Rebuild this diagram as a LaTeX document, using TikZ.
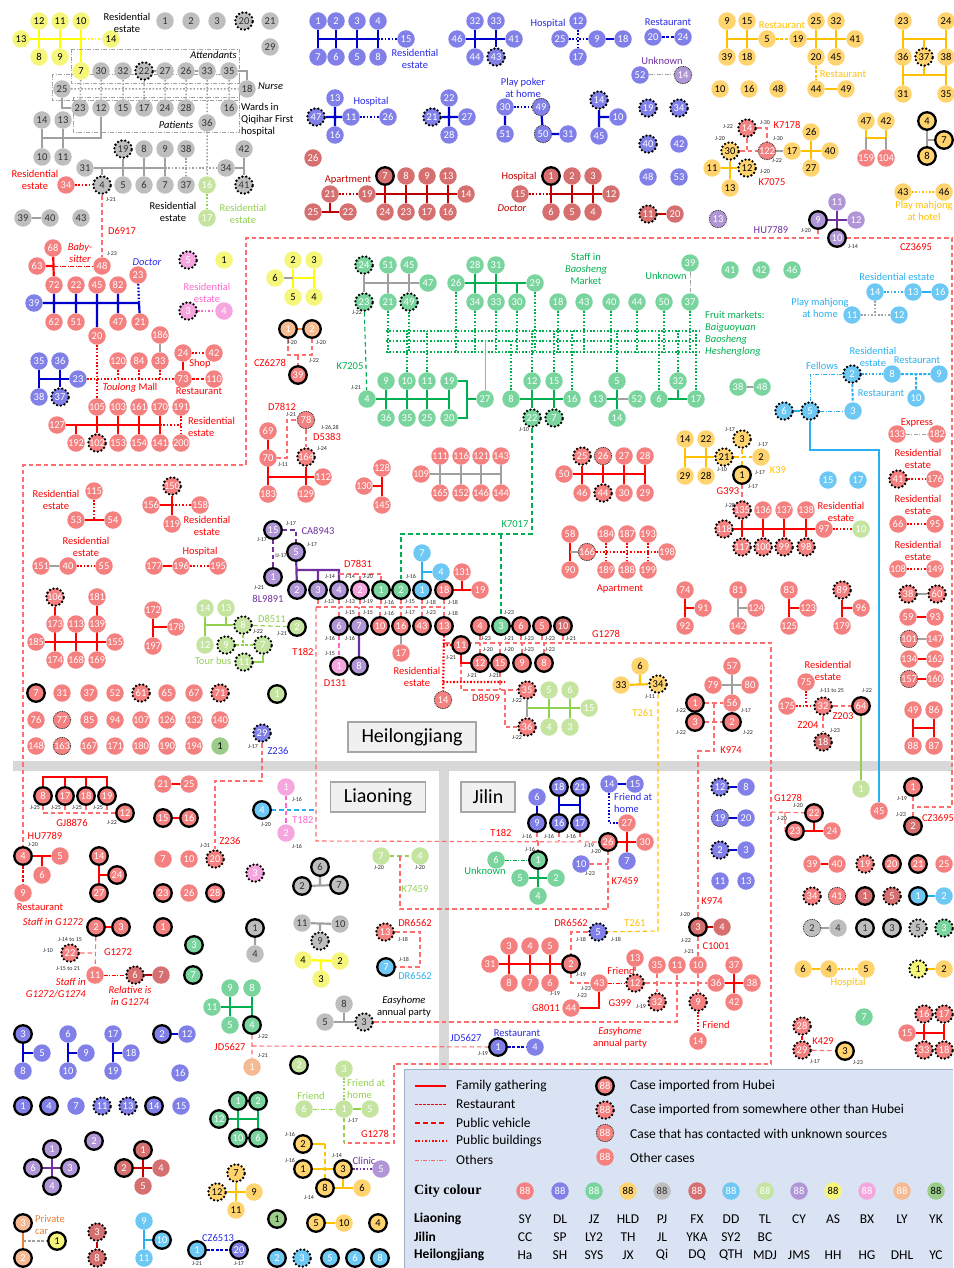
\documentclass[tikz,border=0pt]{standalone}
\usepackage{fontspec}
\setmainfont{Carlito}
\newfontfamily\tmsfont{Liberation Serif}
\usetikzlibrary{backgrounds}
\definecolor{fR}{RGB}{244,128,128}
\definecolor{fB}{RGB}{128,128,232}
\definecolor{fG}{RGB}{122,212,158}
\definecolor{fA}{RGB}{255,211,110}
\definecolor{fGy}{RGB}{190,190,190}
\definecolor{fD}{RGB}{214,112,112}
\definecolor{fC}{RGB}{110,200,244}
\definecolor{fL}{RGB}{196,228,160}
\definecolor{fP}{RGB}{176,150,214}
\definecolor{fY}{RGB}{246,246,122}
\definecolor{fK}{RGB}{246,166,222}
\definecolor{fO}{RGB}{246,186,146}
\definecolor{fV}{RGB}{156,204,138}
\definecolor{eR}{RGB}{255,0,0}
\definecolor{eB}{RGB}{0,0,204}
\definecolor{eG}{RGB}{0,176,80}
\definecolor{eA}{RGB}{255,192,0}
\definecolor{eGy}{RGB}{160,160,160}
\definecolor{eD}{RGB}{192,0,0}
\definecolor{eC}{RGB}{40,176,240}
\definecolor{eL}{RGB}{146,208,80}
\definecolor{eP}{RGB}{112,48,160}
\definecolor{eY}{RGB}{255,255,0}
\definecolor{eK}{RGB}{255,102,204}
\definecolor{eO}{RGB}{237,125,49}
\definecolor{eRt}{RGB}{255,110,110}
\definecolor{tB}{RGB}{40,40,230}
\definecolor{legbg}{RGB}{218,227,243}
\definecolor{legbd}{RGB}{160,175,200}
\definecolor{bandc}{RGB}{216,216,216}
\newcounter{lbn}
\newcommand\Nd[4]{\node[#1] (#2) at (#3) {#4};}
\newcommand\Lb[3]{\stepcounter{lbn}\node[#1] (lab\arabic{lbn}) at (#2) {#3};}
\newcommand\Jl[2]{\stepcounter{lbn}\node[j] (lab\arabic{lbn}) at (#1) {#2};}
\tikzset{
 n/.style={circle,inner sep=0pt,minimum size=17.5pt,font=\fontsize{10.5}{10.5}\selectfont,text=white},
 R/.style={n,fill=fR}, B/.style={n,fill=fB}, G/.style={n,fill=fG}, A/.style={n,fill=fA,text=black},
 Gy/.style={n,fill=fGy,text=black!80}, D/.style={n,fill=fD}, C/.style={n,fill=fC}, L/.style={n,fill=fL},
 P/.style={n,fill=fP}, Y/.style={n,fill=fY,text=black}, K/.style={n,fill=fK}, O/.style={n,fill=fO},
 V/.style={n,fill=fV,text=black},
 hb/.style={draw=black,line width=2.3pt},
 ot/.style={draw=black,line width=2.6pt,dash pattern=on 0pt off 3.8pt,line cap=round},
 un/.style={draw=black!80,line width=0.8pt,dash pattern=on 0.9pt off 0.9pt},
 fam/.style={line width=2.2pt},
 rst/.style={line width=1.4pt,dash pattern=on 3pt off 1.5pt},
 pub/.style={line width=2.2pt,dash pattern=on 1.6pt off 1.8pt},
 oth/.style={line width=1pt,dash pattern=on 4pt off 1.5pt on 1pt off 1.5pt},
 rt/.style={line width=1.1pt,dash pattern=on 4.5pt off 3pt,draw=eRt},
 t/.style={font=\fontsize{10.5}{12}\selectfont,align=center,inner sep=0pt},
 ti/.style={t,font=\fontsize{10.5}{12}\selectfont\itshape},
 j/.style={font=\fontsize{6}{6}\selectfont,inner sep=0pt,text=black!85},
 reg/.style={draw=black!35,line width=1.8pt,fill=black!6,font=\fontsize{20}{20}\selectfont,minimum height=30pt},
 lgt/.style={font=\fontsize{13.5}{14}\selectfont,anchor=west,inner sep=0pt},
 cit/.style={font=\fontsize{13.5}{14}\selectfont,inner sep=0pt},
}
\begin{document}
\begin{tikzpicture}[x=1pt,y=-1pt]
\useasboundingbox (0,0) rectangle (953,1268);
% ================= NODES =================
% top-left yellow
\Nd{Y}{a12}{39,21}{12}\Nd{Y}{a11}{60,21}{11}\Nd{Y}{a10}{81,21}{10}\Nd{Y}{a13}{21,39}{13}\Nd{Y}{a14}{111,39}{14}
\Nd{Y}{a8}{39,57}{8}\Nd{Y}{a9}{60,57}{9}\Nd{Y}{a7}{81,71}{7}
\Lb{t}{127,23}{Residential\\estate}
\Nd{Gy}{b1}{165,21}{1}\Nd{Gy}{b2}{191,21}{2}\Nd{Gy}{b3}{217,21}{3}\Nd{Gy,ot}{b20}{244,21}{20}\Nd{Gy}{b21}{270,21}{21}\Nd{Gy}{b29}{270,47}{29}
% Qiqihar hospital
\Nd{Gy}{q30}{101,71}{30}\Nd{Gy}{q32}{123,71}{32}\Nd{Gy,ot}{q22}{144,71}{22}\Nd{Gy}{q27}{165,71}{27}\Nd{Gy}{q26}{186,71}{26}\Nd{Gy}{q33}{207,71}{33}\Nd{Gy}{q35}{229,71}{35}
\Nd{Gy}{q18}{247,89}{18}\Nd{Gy}{q25}{62,89}{25}
\Nd{Gy}{q23}{80,108}{23}\Nd{Gy}{q12}{101,108}{12}\Nd{Gy}{q15}{123,108}{15}\Nd{Gy}{q17}{144,108}{17}\Nd{Gy}{q24}{165,108}{24}\Nd{Gy}{q28}{186,108}{28}\Nd{Gy}{q16}{229,108}{16}\Nd{Gy}{q36}{207,123}{36}
\Nd{Gy}{q14}{42,120}{14}\Nd{Gy}{q13}{63,120}{13}\Nd{Gy}{q10}{42,157}{10}\Nd{Gy}{q11}{63,157}{11}
\Lb{ti,anchor=east}{237,55}{Attendants}
\Lb{ti,anchor=west}{258,86}{Nurse}
\Lb{t,anchor=west,align=left}{241,120}{Wards in\\Qiqihar First\\hospital}
\Lb{ti}{176,125}{Patients}
% grey cluster 2
\Nd{Gy}{g31}{85,168}{31}\Nd{Gy,ot}{g19}{123,149}{19}\Nd{Gy}{g8}{144,149}{8}\Nd{Gy}{g9}{165,149}{9}\Nd{Gy}{g38}{186,149}{38}\Nd{Gy}{g42}{244,149}{42}
\Nd{Gy,ot}{g4}{102,185}{4}\Nd{Gy}{g5}{123,185}{5}\Nd{Gy}{g6}{144,185}{6}\Nd{Gy}{g7}{165,185}{7}\Nd{Gy}{g37}{186,185}{37}\Nd{Gy}{g34}{226,168}{34}\Nd{Gy,ot}{g41}{244,185}{41}
\Nd{R}{g34r}{66,185}{34}
\Nd{L}{lq16}{207,185}{16}\Nd{L}{lq17}{207,218}{17}
\Nd{Gy}{g39}{23,218}{39}\Nd{Gy}{g40}{50,218}{40}\Nd{Gy}{g43}{81,218}{43}
\Lb{t,text=eR}{35,180}{Residential\\estate}
\Lb{t}{173,212}{Residential\\estate}
\Lb{t,text=eL}{243,214}{Residential\\estate}
\Jl{111,200}{J-21}\Jl{112,254}{J-23}
\Lb{t,text=eR}{122,231}{D6917}
% baby-sitter
\Nd{R}{s68}{53,248}{68}\Nd{R}{s63}{37,266}{63}\Nd{R}{s48}{102,266}{48}\Nd{R}{s72}{54,285}{72}\Nd{R}{s22}{76,285}{22}\Nd{R}{s45}{97,285}{45}\Nd{R}{s82}{118,285}{82}\Nd{R}{s23}{138,275}{23}
\Nd{B}{s39}{34,303}{39}
\Nd{R}{s62}{54,322}{62}\Nd{R}{s51}{76,322}{51}\Nd{R}{s47}{118,322}{47}\Nd{R}{s21}{140,322}{21}\Nd{R}{s20}{97,336}{20}
\Lb{ti,text=eR}{80,253}{Baby-\\sitter}
\Lb{ti,text=tB}{147,262}{Doctor}
\Nd{K,ot}{p5}{188,260}{5}\Nd{Y}{p1}{224,260}{1}\Nd{K,ot}{p3}{188,311}{3}\Nd{K}{p4}{224,311}{4}
\Lb{t,text=eK}{207,293}{Residential\\estate}
% blue top
\Nd{B}{u1}{318,21}{1}\Nd{B}{u2}{336,21}{2}\Nd{B}{u3}{357,21}{3}\Nd{B}{u4}{378,21}{4}\Nd{B}{u15}{406,39}{15}
\Nd{B}{u7}{318,57}{7}\Nd{B}{u6}{336,57}{6}\Nd{B}{u5}{357,57}{5}\Nd{B}{u8}{378,57}{8}
\Lb{t,text=tB}{415,59}{Residential\\estate}
\Nd{B}{v46}{457,39}{46}\Nd{B}{v32}{475,21}{32}\Nd{B}{v33}{496,21}{33}\Nd{B}{v41}{514,39}{41}\Nd{B}{v44}{475,57}{44}\Nd{B,ot}{v43}{496,57}{43}
\Nd{B}{w12}{578,21}{12}\Nd{B}{w25}{560,39}{25}\Nd{B}{w9}{597,39}{9}\Nd{B}{w18}{623,39}{18}\Nd{B}{w17}{578,57}{17}
\Lb{t,text=tB}{548,24}{Hospital}
\Nd{B}{x20}{653,37}{20}\Nd{B}{x24}{683,37}{24}\Lb{t,text=tB}{668,22}{Restaurant}
\Nd{B}{x52}{640,75}{52}\Nd{P,un}{x14}{683,75}{14}\Lb{t,text=eP}{662,61}{Unknown}
\Nd{B,ot}{x19}{648,108}{19}\Nd{B,ot}{x34}{679,108}{34}\Nd{B,ot}{x40}{648,144}{40}\Nd{B}{x42}{679,144}{42}\Nd{B}{x48}{648,177}{48}\Nd{B}{x53}{679,177}{53}
\Nd{D,ot}{x11}{648,214}{11}\Nd{D}{x20d}{675,214}{20}\Nd{P,un}{x13}{718,219}{13}
\Nd{B,ot}{y47}{316,117}{47}\Nd{B}{y13}{335,98}{13}\Nd{B}{y11}{351,117}{11}\Nd{B}{y26}{388,117}{26}\Nd{B}{y16}{335,135}{16}
\Lb{t,text=tB}{371,102}{Hospital}
\Nd{B}{y22}{449,98}{22}\Nd{B,ot}{y21}{432,117}{21}\Nd{B}{y27}{467,117}{27}\Nd{B}{y28}{449,135}{28}
\Nd{B}{y30}{505,107}{30}\Nd{B,un}{y49}{541,107}{49}\Nd{B}{y51}{505,134}{51}\Nd{B,un}{y50}{543,134}{50}\Nd{B}{y31}{568,134}{31}
\Lb{t,text=tB}{523,88}{Play poker\\at home}
\Nd{B,ot}{y14}{599,100}{14}\Nd{B}{y10}{618,117}{10}\Nd{B}{y45}{599,136}{45}
% dark red apartment / hospital
\Nd{D}{z26}{313,158}{26}\Nd{D}{z25}{313,212}{25}\Nd{D}{z21}{330,194}{21}\Nd{D}{z22}{348,212}{22}\Nd{D}{z19}{367,194}{19}
\Nd{D,hb}{z7}{385,176}{7}\Nd{D}{z8}{406,176}{8}\Nd{D}{z9}{427,176}{9}\Nd{D}{z13}{448,176}{13}\Nd{D}{z14}{466,194}{14}
\Nd{D}{z24}{385,212}{24}\Nd{D}{z23}{406,212}{23}\Nd{D}{z17}{427,212}{17}\Nd{D}{z16}{448,212}{16}
\Lb{t,text=eD}{348,180}{Apartment}
\Nd{D,hb}{h1}{551,176}{1}\Nd{D}{h2}{572,176}{2}\Nd{D}{h3}{593,176}{3}\Nd{D}{h15}{520,194}{15}\Nd{D}{h12}{611,194}{12}\Nd{D}{h6}{551,212}{6}\Nd{D}{h5}{572,212}{5}\Nd{D}{h4}{593,212}{4}
\Lb{t,text=eD}{519,177}{Hospital}\Lb{ti,text=eD}{512,208}{Doctor}
% gold top
\Nd{A}{o9}{727,21}{9}\Nd{A}{o15}{747,21}{15}\Nd{A}{o5}{767,39}{5}\Nd{A}{o19}{798,39}{19}\Nd{A}{o25}{816,21}{25}\Nd{A}{o32}{836,21}{32}\Nd{A}{o41}{855,39}{41}
\Nd{A}{o39}{727,57}{39}\Nd{A}{o18}{747,57}{18}\Nd{A}{o20}{816,57}{20}\Nd{A}{o45}{836,57}{45}\Nd{A}{o44}{816,89}{44}\Nd{A}{o49}{846,89}{49}
\Nd{A}{o10}{720,89}{10}\Nd{A}{o16}{749,89}{16}\Nd{A}{o48}{778,89}{48}
\Lb{t,text=eA}{782,25}{Restaurant}\Lb{t,text=eA}{843,74}{Restaurant}
\Nd{A}{o23}{903,21}{23}\Nd{A}{o24}{946,21}{24}\Nd{A}{o36}{903,57}{36}\Nd{A,ot}{o37}{924,57}{37}\Nd{A}{o38}{946,57}{38}\Nd{A}{o31}{903,94}{31}\Nd{A}{o35}{946,94}{35}
% K7178 / K7075
\Nd{R,ot}{k14}{747,128}{14}\Nd{A,ot}{k30}{730,151}{30}\Nd{R,un}{k122}{767,151}{122}\Nd{A,ot}{k12}{747,168}{12}\Nd{A}{k11}{712,168}{11}\Nd{A}{k13}{730,188}{13}
\Nd{A}{k17}{792,151}{17}\Nd{A}{k26}{811,132}{26}\Nd{A}{k40}{830,151}{40}\Nd{A}{k27}{811,168}{27}
\Jl{728,127}{J-22}\Jl{765,123}{J-30}\Jl{778,139}{J-30}\Jl{720,139}{J-20}\Jl{765,172}{J-20}\Jl{777,161}{J-22}
\Lb{t,text=eR}{787,125}{K7178}\Lb{t,text=eR}{772,182}{K7075}
\Nd{A}{m47}{866,121}{47}\Nd{A}{m42}{886,121}{42}\Nd{R}{m159}{866,158}{159}\Nd{R}{m104}{886,158}{104}
\Nd{A,hb}{n4}{927,121}{4}\Nd{A,hb}{n7}{944,140}{7}\Nd{A,hb}{n8}{927,156}{8}
\Nd{A}{n43}{903,192}{43}\Nd{A}{n46}{944,192}{46}\Lb{t,text=eA}{924,211}{Play mahjong\\at hotel}
\Nd{P}{pp11}{837,202}{11}\Nd{P,hb}{pp9}{818,220}{9}\Nd{P}{pp12}{856,220}{12}\Nd{P,hb}{pp10}{837,238}{10}
\Lb{t,text=eP}{771,230}{HU7789}\Jl{806,231}{J-20}\Jl{853,247}{J-14}\Lb{t,text=eR}{916,247}{CZ3695}
% green K7205
\Nd{G,ot}{e24}{364,265}{24}\Nd{G}{e51}{388,265}{51}\Nd{G}{e45}{409,265}{45}\Nd{G}{e47}{428,283}{47}\Nd{G,ot}{e23}{364,302}{23}\Nd{G}{e21}{388,302}{21}\Nd{G,ot}{e49}{409,302}{49}
\Nd{G}{e26}{456,283}{26}\Nd{G}{e28}{475,265}{28}\Nd{G}{e31}{496,265}{31}\Nd{G}{e29}{535,283}{29}\Nd{G}{e34}{475,302}{34}\Nd{G}{e33}{496,302}{33}\Nd{G}{e30}{517,302}{30}
\Nd{G}{e18}{558,302}{18}\Nd{G}{e43}{584,302}{43}\Nd{G}{e40}{611,302}{40}\Nd{G}{e44}{637,302}{44}\Nd{G}{e50}{664,302}{50}\Nd{G}{e37}{690,302}{37}\Nd{G}{e39}{690,263}{39}
\Nd{G}{e41}{730,270}{41}\Nd{G}{e42}{761,270}{42}\Nd{G}{e46}{792,270}{46}
\Nd{G}{e4}{367,399}{4}\Nd{G}{e9}{386,381}{9}\Nd{G}{e10}{407,381}{10}\Nd{G}{e11}{427,381}{11}\Nd{G}{e19}{449,381}{19}
\Nd{G}{e36}{386,418}{36}\Nd{G}{e35}{407,418}{35}\Nd{G}{e25}{427,418}{25}\Nd{G}{e20}{449,418}{20}\Nd{G}{e27}{485,399}{27}
\Nd{G}{e8}{511,399}{8}\Nd{G}{e12}{532,381}{12}\Nd{G}{e15}{554,381}{15}\Nd{G}{e16}{572,399}{16}\Nd{G,ot}{e22}{532,418}{22}\Nd{G,ot}{e7}{554,418}{7}
\Nd{G}{e13}{598,399}{13}\Nd{G}{e5}{617,381}{5}\Nd{G}{e14}{617,418}{14}\Nd{G}{e52}{637,399}{52}
\Nd{G}{e32}{678,381}{32}\Nd{G}{e6}{659,399}{6}\Nd{G}{e17}{696,399}{17}\Nd{G}{e38}{738,387}{38}\Nd{G}{e48}{762,387}{48}
\Lb{t,text=eG}{586,269}{Staff in\\\textit{Baosheng}\\Market}
\Lb{t,text=eG}{666,276}{Unknown}
\Lb{t,text=eG,anchor=west,align=left}{705,334}{Fruit markets:\\\textit{Baiguoyuan}\\\textit{Baosheng}\\\textit{Heshenglong}}
\Lb{t,text=eG}{350,366}{K7205}\Jl{356,388}{J-21}\Jl{357,313}{J-22}\Jl{524,430}{J-10}
\Lb{t,text=eG}{515,524}{K7017}
% yellow small
\Nd{Y}{yy2}{293,260}{2}\Nd{Y}{yy3}{314,260}{3}\Nd{Y}{yy6}{275,278}{6}\Nd{Y}{yy5}{293,297}{5}\Nd{Y}{yy4}{314,297}{4}
% blue 35 / Toulong mall
\Nd{B}{bb35}{39,361}{35}\Nd{B}{bb36}{60,361}{36}\Nd{B}{bb23}{78,379}{23}\Nd{B}{bb38}{39,397}{38}\Nd{B,ot}{bb37}{60,397}{37}
\Nd{R}{tl120}{118,361}{120}\Nd{R}{tl84}{139,361}{84}\Nd{R}{tl33}{160,361}{33}\Nd{R}{tl186}{160,335}{186}\Nd{R}{tl24}{183,353}{24}\Nd{R}{tl42}{214,353}{42}\Nd{R}{tl73}{183,379}{73}\Nd{R}{tl110}{214,379}{110}
\Nd{R}{tl105}{97,407}{105}\Nd{R}{tl103}{118,407}{103}\Nd{R}{tl161}{139,407}{161}\Nd{R}{tl170}{160,407}{170}\Nd{R}{tl191}{181,407}{191}\Nd{R}{tl127}{57,425}{127}
\Nd{R}{tl192}{76,443}{192}\Nd{R,ot}{tl102}{97,443}{102}\Nd{R}{tl153}{118,443}{153}\Nd{R}{tl154}{139,443}{154}\Nd{R}{tl141}{160,443}{141}\Nd{R}{tl200}{181,443}{200}
\Lb{t,text=eR}{130,388}{\textit{Toulong} Mall}\Lb{t,text=eR}{200,364}{Shop}\Lb{t,text=eR}{199,391}{Restaurant}
\Lb{t,text=eR,anchor=west,align=left}{188,427}{Residential\\estate}
% lower-left Heilongjiang red
\Nd{R}{ll115}{94,491}{115}\Nd{R}{ll53}{76,520}{53}\Nd{R}{ll54}{113,520}{54}
\Nd{R,ot}{ll150}{172,486}{150}\Nd{R}{ll156}{151,505}{156}\Nd{R}{ll158}{200,505}{158}\Nd{R}{ll119}{172,524}{119}
\Nd{R}{ll151}{41,566}{151}\Nd{R}{ll40}{68,566}{40}\Nd{R}{ll55}{104,566}{55}
\Nd{R}{ll177}{154,566}{177}\Nd{R}{ll196}{181,566}{196}\Nd{R}{ll195}{218,566}{195}
\Nd{R,ot}{ll106}{55,597}{106}\Nd{R}{ll181}{97,597}{181}\Nd{R}{ll173}{55,624}{173}\Nd{R}{ll113}{76,624}{113}\Nd{R}{ll139}{97,624}{139}
\Nd{R}{ll185}{36,642}{185}\Nd{R}{ll174}{55,660}{174}\Nd{R}{ll168}{76,660}{168}\Nd{R}{ll169}{97,660}{169}\Nd{R}{ll155}{115,642}{155}
\Nd{R}{ll172}{153,610}{172}\Nd{R}{ll197}{153,646}{197}\Nd{R}{ll178}{176,627}{178}
\Lb{t,text=eR}{56,500}{Residential\\estate}\Lb{t,text=eR}{207,526}{Residential\\estate}\Lb{t,text=eR}{86,547}{Residential\\estate}\Lb{t,text=eR}{200,552}{Hospital}
% singles rows
\Nd{R,hb}{sg7}{36,693}{7}\Nd{R}{sg31}{62,693}{31}\Nd{R}{sg37}{89,693}{37}\Nd{R}{sg52}{115,693}{52}\Nd{R,ot}{sg61}{141,693}{61}\Nd{R}{sg65}{167,693}{65}\Nd{R}{sg67}{194,693}{67}\Nd{R,ot}{sg71}{220,693}{71}\Nd{L,hb}{sgl1}{277,694}{1}
\Nd{R}{sg76}{36,720}{76}\Nd{R,un}{sg77}{62,720}{77}\Nd{R}{sg85}{89,720}{85}\Nd{R}{sg94}{115,720}{94}\Nd{R}{sg107}{141,720}{107}\Nd{R}{sg126}{167,720}{126}\Nd{R}{sg132}{194,720}{132}\Nd{R}{sg140}{220,720}{140}
\Nd{R}{sg148}{36,746}{148}\Nd{R,un}{sg163}{62,746}{163}\Nd{R}{sg167}{89,746}{167}\Nd{R}{sg171}{115,746}{171}\Nd{R}{sg180}{141,746}{180}\Nd{R}{sg190}{167,746}{190}\Nd{R}{sg194}{194,746}{194}\Nd{V}{sgv1}{220,746}{1}
\Nd{B,ot}{bz29}{262,733}{29}\Jl{253,747}{J-17}\Lb{t,text=tB}{278,751}{Z236}
% CZ6278, D7812
\Nd{O,hb}{c1}{288,329}{1}\Nd{O,hb}{c2}{312,329}{2}\Nd{R,hb}{c39}{298,375}{39}
\Jl{292,343}{J-20}\Jl{321,343}{J-20}\Jl{314,361}{J-22}\Lb{t,text=eR}{270,363}{CZ6278}
\Nd{R,un}{dd78}{306,420}{78}\Nd{R}{dd69}{268,431}{69}\Nd{R}{dd70}{268,458}{70}\Nd{R,ot}{dd164}{306,457}{164}\Nd{R}{dd183}{268,494}{183}\Nd{R}{dd129}{306,494}{129}\Nd{R}{dd112}{323,477}{112}
\Lb{t,text=eR}{282,407}{D7812}\Jl{291,415}{J-21}\Jl{283,465}{J-11}\Lb{t,text=eR}{327,437}{D5383}\Jl{322,449}{J-24}\Jl{330,428}{J-26,28}
% misc reds/greys centre
\Nd{R}{r128}{382,468}{128}\Nd{R}{r130}{364,486}{130}\Nd{R}{r145}{382,505}{145}
\Nd{R}{gg111}{440,456}{111}\Nd{R}{gg116}{461,456}{116}\Nd{R}{gg121}{481,456}{121}\Nd{R}{gg143}{501,456}{143}\Nd{R}{gg109}{421,474}{109}
\Nd{R}{gg165}{440,493}{165}\Nd{R}{gg152}{461,493}{152}\Nd{R}{gg146}{481,493}{146}\Nd{R}{gg144}{501,493}{144}
\Nd{R,ot}{fa25}{582,456}{25}\Nd{R,un}{fa26}{603,456}{26}\Nd{R}{fa27}{624,456}{27}\Nd{R}{fa28}{645,456}{28}\Nd{R}{fa50}{564,474}{50}
\Nd{R}{fa46}{582,493}{46}\Nd{R,ot}{fa44}{603,493}{44}\Nd{R}{fa30}{624,493}{30}\Nd{R}{fa29}{645,493}{29}
\Nd{R}{ap58}{570,534}{58}\Nd{R}{ap90}{570,570}{90}\Nd{R,un}{ap166}{587,552}{166}\Nd{R}{ap184}{606,534}{184}\Nd{R}{ap187}{627,534}{187}\Nd{R}{ap193}{648,534}{193}
\Nd{R}{ap198}{667,552}{198}\Nd{R}{ap189}{606,570}{189}\Nd{R}{ap188}{627,570}{188}\Nd{R}{ap199}{648,570}{199}
\Lb{t,text=eR}{620,589}{Apartment}
% chain
\Nd{P,hb}{ch15}{273,530}{15}\Nd{P,hb}{ch5}{296,552}{5}\Nd{P,hb}{ch1}{273,577}{1}
\Nd{P,hb}{ch2p}{297,590}{2}\Nd{P,hb}{ch3p}{318,590}{3}\Nd{P,hb}{ch4p}{339,590}{4}\Nd{K,hb}{ch2k}{360,590}{2}\Nd{G,hb}{ch1g}{381,590}{1}\Nd{G,hb}{ch2g}{401,590}{2}\Nd{C,hb}{ch1c}{422,590}{1}\Nd{R,hb}{ch18}{444,590}{18}\Nd{R}{ch19}{480,590}{19}
\Nd{R}{ch131}{462,572}{131}\Nd{C}{ch7c}{422,553}{7}\Nd{C}{ch4c}{441,572}{4}
\Nd{L,hb}{ch2lg}{297,627}{2}\Nd{P,hb}{ch6p}{339,626}{6}\Nd{P,hb}{ch7p}{359,626}{7}\Nd{R,hb}{ch10}{380,626}{10}\Nd{R,hb}{ch16}{401,626}{16}\Nd{R,hb}{ch43}{422,626}{43}\Nd{R,hb}{ch13}{444,626}{13}
\Nd{R,hb}{ch4r}{480,626}{4}\Nd{G,hb}{ch3g}{501,626}{3}\Nd{R,hb}{ch6r}{521,626}{6}\Nd{R,hb}{ch5r}{542,626}{5}\Nd{D,hb}{ch10r}{563,626}{10}
\Nd{K,hb}{ch1k}{339,666}{1}\Nd{P,hb}{ch8p}{359,666}{8}\Nd{R}{ch17}{401,653}{17}\Nd{R,un}{ch14}{443,700}{14}
\Nd{R,hb}{ch11}{461,645}{11}\Nd{R,hb}{ch12}{480,663}{12}\Nd{R,hb}{ch15r}{500,663}{15}\Nd{R,hb}{ch9}{522,663}{9}\Nd{R,hb}{ch8r}{544,663}{8}
\Jl{291,524}{J-17}\Jl{262,540}{J-17}\Jl{312,545}{J-17}\Jl{281,556}{IJ-17}\Lb{t,text=eP}{318,531}{CA8943}
\Jl{259,588}{J-21}\Lb{t,text=eP}{268,599}{8L9891}
\Lb{t,text=eR}{358,564}{D7831}\Jl{330,577}{J-14}\Jl{350,577}{J-14}\Jl{368,577}{J-20}\Jl{411,576}{J-16}
\Jl{329,602}{J-13}\Jl{350,602}{J-13}\Jl{368,602}{J-19}\Jl{389,602}{J-16}\Jl{410,602}{J-15}\Jl{431,602}{J-18}\Jl{453,602}{J-18}
\Jl{350,613}{J-15}\Jl{368,613}{J-15}\Jl{389,613}{J-16}\Jl{410,613}{J-17}\Jl{431,613}{J-23}\Jl{453,613}{J-18}\Jl{509,613}{J-23}
\Jl{330,654}{J-15}\Jl{330,638}{J-16}\Jl{350,638}{J-16}\Lb{t,text=eR}{335,683}{D131}
\Lb{t,text=eR}{417,677}{Residential\\estate}
\Jl{451,658}{J-21}\Jl{472,676}{J-21}\Jl{494,676}{J-21}
\Jl{486,639}{J-23}\Jl{509,639}{J-21}\Jl{529,639}{J-23}\Jl{550,639}{J-23}\Jl{571,639}{J-21}
\Jl{488,650}{J-20}\Jl{509,650}{J-20}\Jl{529,650}{J-23}\Jl{550,650}{J-23}
\Lb{t,text=eR}{606,634}{G1278}
\Nd{R,ot}{lg35}{527,690}{35}\Nd{R,ot}{lg36}{527,727}{36}\Nd{L}{lg5}{549,690}{5}\Nd{L}{lg6}{570,690}{6}\Nd{L}{lg15}{589,708}{15}\Nd{L}{lg4}{549,727}{4}\Nd{L}{lg3}{570,727}{3}
\Lb{t,text=eR}{486,698}{D8509}\Jl{517,701}{J-22}\Jl{517,738}{J-22}
% tour bus
\Nd{L}{lt14}{205,608}{14}\Nd{L}{lt13}{226,608}{13}\Nd{L,ot}{lt8}{243,625}{8}\Nd{L}{lt12}{205,645}{12}\Nd{L,ot}{lt9}{226,645}{9}\Nd{L,ot}{lt7}{263,645}{7}\Nd{L,ot}{lt11}{244,662}{11}
\Lb{t,text=eL}{272,619}{D8511}\Jl{258,632}{J-22}\Jl{282,634}{J-21}\Lb{t,text=eL}{213,661}{Tour bus}
\Lb{t,text=eR}{303,652}{T182}
% T261, K974, Z203
\Nd{A}{t6}{640,666}{6}\Nd{A,ot}{t34}{658,684}{34}\Nd{A}{t33}{621,685}{33}\Jl{650,697}{J-11}\Lb{t,text=eA}{643,713}{T261}
\Nd{R}{kk57}{732,666}{57}\Nd{R}{kk79}{713,685}{79}\Nd{R}{kk80}{750,685}{80}\Nd{R}{kk56}{732,703}{56}\Nd{R,hb}{kk1}{695,703}{1}\Nd{R,hb}{kk3}{695,722}{3}\Nd{R,hb}{kk2}{732,722}{2}
\Jl{681,711}{J-22}\Jl{681,733}{J-22}\Jl{746,711}{J-17}\Jl{748,733}{J-22}\Lb{t,text=eR}{731,750}{K974}
\Nd{R}{zz75}{806,682}{75}\Nd{R}{zz175}{787,706}{175}\Nd{R,ot}{zz32}{823,706}{32}\Nd{R,hb}{zz64}{861,706}{64}\Nd{D,ot}{zz18}{823,742}{18}
\Lb{t,text=eR}{828,671}{Residential\\estate}\Jl{832,691}{J-11 to 25}\Jl{867,691}{J-22}\Lb{t,text=eR}{843,716}{Z203}\Lb{t,text=eR}{808,725}{Z204}\Jl{835,731}{J-23}
\Nd{L}{jlg1}{861,789}{1}\Nd{R}{cy45}{879,811}{45}
% right column
\Nd{R}{rc133}{897,434}{133}\Nd{R}{rc182}{937,434}{182}\Lb{t,text=eR}{917,423}{Express}
\Nd{R,ot}{rc41}{898,479}{41}\Nd{R}{rc176}{935,479}{176}\Lb{t,text=eR}{918,459}{Residential\\estate}
\Nd{R}{rc66}{898,524}{66}\Nd{R}{rc95}{935,524}{95}\Lb{t,text=eR}{918,505}{Residential\\estate}
\Nd{R}{rc108}{898,569}{108}\Nd{R}{rc149}{935,569}{149}\Lb{t,text=eR}{918,551}{Residential\\estate}
\Nd{R,ot}{rc38}{908,594}{38}\Nd{R,ot}{rc60}{937,594}{60}\Nd{R}{rc59}{908,617}{59}\Nd{R}{rc93}{935,617}{93}
\Nd{R,un}{rc101}{909,639}{101}\Nd{R}{rc147}{935,639}{147}\Nd{R}{rc134}{909,659}{134}\Nd{R}{rc162}{935,659}{162}\Nd{R,un}{rc157}{909,679}{157}\Nd{R}{rc160}{935,679}{160}
\Nd{R}{rc49}{913,710}{49}\Nd{R}{rc86}{934,710}{86}\Nd{R}{rc88}{913,746}{88}\Nd{R}{rc87}{934,746}{87}
% cyan
\Nd{C}{cy14}{875,292}{14}\Nd{C}{cy13}{913,292}{13}\Nd{C}{cy16}{940,292}{16}\Nd{C}{cy11}{852,315}{11}\Nd{C}{cy12}{899,315}{12}
\Lb{t,text=eC}{897,277}{Residential estate}\Lb{t,text=eC}{820,308}{Play mahjong\\at home}
\Nd{C,ot}{cy2}{852,374}{2}\Nd{C}{cy8}{892,374}{8}\Nd{C}{cy9}{939,374}{9}\Nd{C}{cy10}{916,398}{10}\Nd{C,ot}{cy6}{784,411}{6}\Nd{C,ot}{cy5}{810,411}{5}\Nd{C}{cy3}{853,411}{3}
\Lb{t,text=eC}{822,366}{Fellows}\Lb{t,text=eC}{873,357}{Residential\\estate}\Lb{t,text=eC}{917,360}{Restaurant}\Lb{t,text=eC}{881,393}{Restaurant}
\Nd{C}{cy15}{828,480}{15}\Nd{C}{cy17}{858,480}{17}
% K39 / G393
\Nd{A}{kg14}{685,439}{14}\Nd{A}{kg22}{706,439}{22}\Nd{A}{kg29}{685,476}{29}\Nd{A}{kg28}{706,476}{28}\Nd{A,ot}{kg21}{724,457}{21}\Nd{A,ot}{kg3}{742,439}{3}\Nd{A}{kg2}{761,457}{2}\Nd{A,hb}{kg1}{742,475}{1}
\Jl{730,430}{J-17}\Jl{763,445}{J-17}\Jl{722,470}{J-10}\Jl{760,473}{J-17}\Lb{t,text=eA}{778,470}{K39}\Jl{753,487}{J-17}\Lb{t,text=eR}{728,491}{G393}\Jl{730,505}{J-28}
\Nd{R,ot}{kr135}{742,510}{135}\Nd{R}{kr136}{763,510}{136}\Nd{R}{kr137}{784,510}{137}\Nd{R}{kr138}{806,510}{138}\Nd{R,ot}{kr118}{724,529}{118}\Nd{R}{kr97}{824,529}{97}\Nd{L}{kr10}{861,529}{10}
\Nd{R,ot}{kr117}{742,547}{117}\Nd{R,ot}{kr100}{763,547}{100}\Nd{R,ot}{kr99}{784,547}{99}\Nd{R,ot}{kr98}{806,547}{98}
\Lb{t,text=eR}{841,512}{Residential\\estate}
\Nd{R}{rr74}{685,590}{74}\Nd{R}{rr91}{703,608}{91}\Nd{R}{rr92}{685,626}{92}\Nd{R}{rr81}{738,590}{81}\Nd{R}{rr124}{756,608}{124}\Nd{R}{rr142}{738,626}{142}
\Nd{R}{rr83}{789,590}{83}\Nd{R}{rr123}{808,608}{123}\Nd{R}{rr125}{789,626}{125}\Nd{R,ot}{rr89}{842,590}{89}\Nd{R}{rr96}{861,608}{96}\Nd{R}{rr179}{842,626}{179}
% region labels
\node[reg,minimum width=128pt] (hlj) at (412,737) {Heilongjiang};
\node[reg,minimum width=95pt] (lnn) at (378,797) {Liaoning};
\node[reg,minimum width=54pt] (jln) at (488,797) {Jilin};
% Liaoning
\Nd{R,hb}{L8}{43,796}{8}\Nd{R,hb}{L17}{65,796}{17}\Nd{R,hb}{L18}{86,796}{18}\Nd{R,hb}{L19}{107,796}{19}\Nd{R,hb}{L12}{125,813}{12}
\Jl{35,808}{J-25}\Jl{56,808}{J-25}\Jl{77,808}{J-25}\Jl{98,808}{J-25}\Jl{112,823}{J-22}\Lb{t,text=eR}{72,823}{GJ8876}
\Lb{t,text=eR}{45,836}{HU7789}\Jl{33,845}{J-20}
\Nd{R,hb}{L4}{23,856}{4}\Nd{R}{L5}{60,856}{5}\Nd{R}{L6}{42,875}{6}\Nd{R}{L9}{23,893}{9}\Lb{t,text=eR}{40,907}{Restaurant}
\Nd{R,hb}{L14}{99,856}{14}\Nd{R,hb}{L24}{117,875}{24}\Nd{R,hb}{L27}{99,893}{27}
\Nd{R}{M21}{163,784}{21}\Nd{R}{M25}{189,784}{25}\Nd{R,hb}{M15}{163,818}{15}\Nd{R,hb}{M16}{189,818}{16}
\Nd{R}{M7}{163,859}{7}\Nd{R}{M10}{189,859}{10}\Nd{R,ot}{M20}{215,859}{20}\Lb{t,text=eR}{230,841}{Z236}\Jl{205,846}{J-31}
\Nd{R,hb}{M23}{163,893}{23}\Nd{R}{M26}{189,893}{26}\Nd{R,hb}{M28}{215,893}{28}\Nd{R,hb}{M1}{163,927}{1}\Nd{G,hb}{Mg3}{194,945}{3}\Nd{G,hb}{Mg7}{193,975}{7}
\Nd{K}{pk1}{286,787}{1}\Nd{C,hb}{pk4}{262,810}{4}\Nd{K}{pk2}{286,833}{2}\Nd{K,ot}{lp3}{255,873}{3}
\Jl{297,799}{J-16}\Jl{266,825}{J-20}\Jl{297,846}{J-16}\Lb{t,text=eK}{303,820}{T182}
\Nd{Gy,hb}{gl6}{320,867}{6}\Nd{Gy,hb}{gl2}{302,886}{2}\Nd{Gy,hb}{gl7}{339,885}{7}
\Nd{Gy}{gl11}{302,923}{11}\Nd{Gy}{gl10}{340,924}{10}\Nd{Gy,ot}{gl9}{320,941}{9}\Nd{Gy,hb}{gl1}{255,928}{1}\Nd{Gy}{gl4}{255,954}{4}
\Nd{Y}{yl4}{303,960}{4}\Nd{Y}{yl2}{340,961}{2}\Nd{Y}{yl3}{321,979}{3}
\Lb{ti,text=eR}{53,922}{Staff in G1272}
\Nd{R,hb}{sf2}{96,927}{2}\Nd{R,hb}{sf3}{121,927}{3}\Nd{R,ot}{sf22}{70,953}{22}\Nd{R}{sf11}{95,975}{11}\Nd{D,ot}{sf6}{135,975}{6}\Nd{D}{sf7}{161,975}{7}
\Jl{70,940}{J-14 to 15}\Jl{48,951}{J-10}\Lb{t,text=eR}{118,952}{G1272}\Jl{68,969}{J-15 to 21}
\Lb{ti,text=eR,anchor=east,align=right}{86,988}{Staff in\\G1272/G1274}\Lb{ti,text=eR}{130,996}{Relative is\\in G1274}
\Nd{L}{lk7}{381,856}{7}\Nd{L}{lk4}{420,856}{4}\Jl{379,868}{J-20}\Jl{420,868}{J-20}\Lb{t,text=eL}{415,889}{K7459}
\Nd{R,ot}{dr13}{385,932}{13}\Nd{C,hb}{dr7}{386,967}{7}\Jl{403,939}{J-18}\Lb{t,text=eR}{415,923}{DR6562}\Jl{404,959}{J-18}\Lb{t,text=eC}{415,976}{DR6562}
\Nd{Gy}{ge8}{344,1004}{8}\Nd{Gy}{ge5}{325,1022}{5}\Nd{Gy,ot}{ge3}{364,1022}{3}\Lb{t}{404,1007}{\textit{Easyhome}\\annual party}
\Nd{G}{jg9}{230,988}{9}\Nd{G}{jg8}{252,988}{8}\Nd{G}{jg11}{212,1007}{11}\Nd{G}{jg5}{230,1025}{5}\Nd{G,hb}{jg4}{252,1025}{4}\Nd{O}{jo1}{252,1067}{1}
\Jl{263,1037}{J-22}\Lb{t,text=eR}{230,1047}{JD5627}\Jl{263,1056}{J-21}
\Nd{B,hb}{jb1}{498,1047}{1}\Nd{B}{jb4}{535,1047}{4}\Lb{t,text=tB}{466,1038}{JD5627}\Jl{483,1054}{J-19}\Lb{t,text=tB}{517,1033}{Restaurant}
\Nd{B,hb}{lb3}{23,1034}{3}\Nd{B}{lb5}{42,1053}{5}\Nd{B}{lb8}{23,1071}{8}\Nd{B}{lb6}{68,1034}{6}\Nd{B}{lb9}{86,1053}{9}\Nd{B}{lb10}{68,1071}{10}
\Nd{B}{lb17}{113,1034}{17}\Nd{B}{lb18}{131,1053}{18}\Nd{B}{lb19}{113,1071}{19}\Nd{B,hb}{lb2}{162,1034}{2}\Nd{B}{lb12}{187,1034}{12}\Nd{B}{lb16}{180,1073}{16}
\Nd{B,hb}{lr1}{23,1106}{1}\Nd{B,hb}{lr4}{49,1106}{4}\Nd{B}{lr7}{76,1106}{7}\Nd{B,ot}{lr11}{102,1106}{11}\Nd{B,ot}{lr13}{128,1106}{13}\Nd{B,hb}{lr14}{154,1106}{14}\Nd{B}{lr15}{181,1106}{15}
\Nd{P,hb}{pc1}{52,1149}{1}\Nd{P,hb}{pc6}{33,1168}{6}\Nd{P,hb}{pc3}{70,1168}{3}\Nd{P,hb}{pc4}{52,1186}{4}\Nd{P,hb}{pc2}{94,1141}{2}
\Nd{D,hb}{dc1}{143,1150}{1}\Nd{D,hb}{dc2}{124,1168}{2}\Nd{D}{dc4}{161,1168}{4}\Nd{D}{dc5}{143,1186}{5}
\Nd{G,hb}{gc1}{238,1101}{1}\Nd{G,hb}{gc2}{258,1101}{2}\Nd{G,hb}{gc12}{219,1119}{12}\Nd{G,hb}{gc10}{238,1138}{10}\Nd{G,hb}{gc6}{258,1138}{6}
\Nd{L,hb}{lw2}{299,1065}{2}
\Nd{A,ot}{gx7}{236,1173}{7}\Nd{A,ot}{gx12}{217,1192}{12}\Nd{A}{gx9}{254,1192}{9}\Nd{A}{gx11}{236,1210}{11}
\Nd{V,hb}{ov1}{277,1219}{1}
\Nd{O,hb}{or3}{23,1223}{3}\Nd{O,hb}{or2}{23,1258}{2}\Nd{Y,hb}{oy1}{57,1241}{1}\Lb{t,text=eO,anchor=west,align=left}{35,1225}{Private\\car}
\Nd{D,ot}{d3}{97,1232}{3}\Nd{D,ot}{d8}{97,1258}{8}
\Nd{C}{c9}{144,1221}{9}\Nd{C,hb}{c10}{162,1240}{10}\Nd{C}{c11}{144,1258}{11}
\Nd{C,hb}{cz61}{197,1250}{1}\Nd{B,hb}{cz620}{239,1250}{20}\Lb{t,text=tB}{218,1238}{CZ6513}\Jl{197,1264}{J-21}\Jl{239,1264}{J-17}
\Nd{C,hb}{cyb2}{277,1258}{2}\Nd{C,ot}{cyb3}{302,1258}{3}
\Nd{L}{lf3}{344,1069}{3}\Nd{L}{lf1}{344,1109}{1}\Nd{L}{lf5}{370,1109}{5}\Nd{L}{lf6}{304,1109}{6}
\Lb{t,text=eL,anchor=west,align=left}{347,1089}{Friend at\\home}\Lb{t,text=eL}{311,1096}{Friend}\Jl{353,1121}{J-17}\Lb{t,text=eR}{375,1134}{G1278}
\Nd{A,hb}{au2}{303,1144}{2}\Nd{A,hb}{au1}{303,1169}{1}\Nd{A,hb}{au3}{343,1169}{3}\Nd{A,hb}{au8}{325,1188}{8}\Nd{A}{au6}{362,1188}{6}\Nd{P}{pu5}{381,1169}{5}
\Jl{290,1134}{J-16}\Jl{290,1160}{J-16}\Jl{337,1156}{J-14}\Jl{309,1198}{J-14}\Lb{t,text=eP}{364,1161}{Clinic}
\Nd{A,hb}{au5}{316,1223}{5}\Nd{A}{au10}{344,1223}{10}\Nd{A,hb}{au4}{378,1223}{4}
\Nd{C,hb}{cb5}{330,1258}{5}\Nd{C,hb}{cb6}{355,1258}{6}\Nd{C,hb}{cb8}{380,1258}{8}
% Jilin
\Nd{B}{jb6}{537,797}{6}\Nd{B,hb}{jb9}{537,823}{9}\Nd{B,hb}{jb18}{559,787}{18}\Nd{B,hb}{jb21}{580,787}{21}\Nd{B,hb}{jb16}{559,823}{16}\Nd{B,hb}{jb17}{580,823}{17}
\Jl{527,836}{J-16}\Jl{549,836}{J-16}\Jl{571,836}{J-16}\Lb{t,text=eR}{501,833}{T182}
\Nd{B}{jb14}{609,784}{14}\Nd{B}{jb15}{635,784}{15}\Lb{t,text=tB,anchor=west,align=left}{614,803}{Friend at\\home}
\Nd{R,hb}{jr26}{608,842}{26}\Nd{R}{jr27}{627,823}{27}\Nd{R}{jr30}{645,842}{30}\Nd{B}{jb7}{627,861}{7}\Nd{B}{jb10}{581,864}{10}
\Jl{589,846}{J-19}\Jl{596,852}{J-20}\Jl{590,874}{J-23}\Lb{t,text=eR}{625,881}{K7459}
\Nd{G,hb}{ju1}{538,860}{1}\Nd{G}{ju6}{496,860}{6}\Nd{G}{ju5}{520,878}{5}\Nd{G}{ju2}{556,878}{2}\Nd{G}{ju4}{538,896}{4}\Lb{t,text=eG}{485,871}{Unknown}\Jl{530,849}{J-16}
\Nd{B,ot}{jx12}{720,787}{12}\Nd{B}{jx8}{746,787}{8}\Nd{B,un}{jx19}{720,818}{19}\Nd{B}{jx20}{746,818}{20}\Nd{B,ot}{jx2}{720,850}{2}\Nd{B}{jx3}{746,850}{3}\Nd{B}{jx11}{720,881}{11}\Nd{B}{jx13}{746,881}{13}
\Nd{R,hb}{jl22}{814,813}{22}\Nd{R,hb}{jl23}{795,831}{23}\Nd{R}{jl24}{832,831}{24}\Lb{t,text=eR}{788,798}{G1278}\Jl{798,806}{J-20}\Jl{782,819}{J-20}
\Nd{R}{ja39}{812,864}{39}\Nd{R}{ja40}{837,864}{40}\Nd{R,ot}{ja19}{865,864}{19}\Nd{R,hb}{ja20}{892,864}{20}\Nd{R,hb}{ja21}{918,864}{21}\Nd{R}{ja25}{944,864}{25}
\Nd{R,ot}{jc34}{812,896}{34}\Nd{R,un}{jc41}{837,896}{41}\Nd{D,hb}{jc1}{865,896}{1}\Nd{D,ot}{jc5}{892,896}{5}\Nd{C,hb}{jc1c}{918,896}{1}\Nd{C}{jc2c}{944,896}{2}
\Nd{Gy,un}{jd2}{812,928}{2}\Nd{Gy}{jd4}{838,928}{4}\Nd{Gy,hb}{jd1}{865,928}{1}\Nd{Gy,hb}{jd3}{892,928}{3}\Nd{Gy,ot}{jd5}{918,928}{5}\Nd{G,ot}{jd3g}{944,928}{3}
\Nd{R,hb}{cz1}{913,787}{1}\Nd{D,hb}{cz2}{913,826}{2}\Jl{902,799}{J-19}\Jl{901,815}{J-23}\Lb{t,text=eR}{938,818}{CZ3695}
\Nd{R}{jr3}{509,946}{3}\Nd{R}{jr4}{530,946}{4}\Nd{R}{jr5}{550,946}{5}\Nd{R,hb}{jr2}{571,964}{2}\Nd{R}{jr31}{490,964}{31}\Nd{R}{jr8}{509,983}{8}\Nd{R}{jr7}{530,983}{7}\Nd{R}{jr6}{550,983}{6}
\Nd{R}{jr43}{599,983}{43}\Nd{R}{jr44}{571,1008}{44}\Nd{B,ot}{jb5}{598,932}{5}
\Lb{t,text=eR}{571,923}{DR6562}\Jl{581,939}{J-18}\Jl{616,939}{J-18}\Lb{t,text=eA}{635,923}{T261}
\Jl{581,975}{J-19}\Jl{586,989}{J-23}\Jl{582,996}{J-23}\Jl{555,994}{J-19}\Lb{t,text=eR}{546,1008}{G8011}
\Nd{R,ot}{je12}{635,983}{12}\Nd{R}{je13}{635,958}{13}\Nd{R,ot}{je32}{657,1002}{32}\Nd{R}{je35}{657,965}{35}\Nd{R}{je11}{677,965}{11}\Nd{R}{je10}{698,965}{10}\Nd{R,ot}{je9}{698,1002}{9}
\Nd{R}{je36}{716,983}{36}\Nd{R}{je37}{734,965}{37}\Nd{R}{je38}{752,983}{38}\Nd{R}{je42}{734,1002}{42}\Nd{R}{je14}{698,1041}{14}
\Lb{t,text=eR}{621,971}{Friend}\Lb{t,text=eR}{716,1025}{Friend}\Lb{t,text=eR}{620,1003}{G399}\Jl{641,1007}{J-19}\Jl{689,952}{J-21}
\Lb{t,text=eR}{620,1038}{\textit{Easyhome}\\annual party}
\Nd{D,hb}{cc3}{698,927}{3}\Nd{D}{cc4}{722,927}{4}\Jl{685,915}{J-20}\Jl{686,941}{J-22}\Lb{t,text=eR}{716,946}{C1001}\Lb{t,text=eR}{712,901}{K974}
\Nd{A}{hh6}{803,969}{6}\Nd{A}{hh4}{829,969}{4}\Nd{A}{hh5}{866,969}{5}\Lb{t,text=eA}{848,983}{Hospital}\Nd{Y,ot}{hy1}{918,969}{1}\Nd{A}{hy2}{944,969}{2}
\Nd{G}{hg7}{864,1017}{7}
\Nd{R,ot}{kq28}{802,1026}{28}\Nd{R,ot}{kq29}{802,1050}{29}\Nd{A,hb}{kq3}{845,1051}{3}\Lb{t,text=eR}{823,1041}{K429}\Jl{815,1062}{J-17}\Jl{858,1063}{J-23}
\Nd{R}{hr15}{907,1033}{15}\Nd{R,ot}{hr16}{924,1014}{16}\Nd{R,ot}{hr17}{944,1014}{17}\Nd{R,ot}{hr33}{924,1050}{33}\Nd{R,ot}{hr18}{944,1050}{18}
% legend
\Lb{lgt}{456,1086}{Family gathering}\Lb{lgt}{456,1104}{Restaurant}\Lb{lgt}{456,1123}{Public vehicle}\Lb{lgt}{456,1141}{Public buildings}\Lb{lgt}{456,1160}{Others}
\Nd{R,hb}{lc1}{605,1086}{88}\Nd{R,ot}{lc2}{605,1110}{88}\Nd{R,un}{lc3}{605,1133}{88}\Nd{R}{lc4}{605,1157}{88}
\Lb{lgt}{630,1086}{Case imported from Hubei}\Lb{lgt}{630,1110}{Case imported from somewhere other than Hubei}
\Lb{lgt}{630,1134}{Case that has contacted with unknown sources}\Lb{lgt}{630,1158}{Other cases}
\Lb{anchor=west,inner sep=0pt,font=\tmsfont\bfseries\fontsize{14}{14}\selectfont}{414,1191}{City colour}
\Nd{R}{lgc1}{525,1191}{88}\Nd{B}{lgc2}{560,1191}{88}\Nd{G}{lgc3}{594,1191}{88}\Nd{A}{lgc4}{628,1191}{88}\Nd{Gy}{lgc5}{662,1191}{88}\Nd{D}{lgc6}{697,1191}{88}\Nd{C}{lgc7}{731,1191}{88}
\Nd{L}{lgc8}{765,1191}{88}\Nd{P}{lgc9}{799,1191}{88}\Nd{Y}{lgc10}{833,1191}{88}\Nd{K}{lgc11}{867,1191}{88}\Nd{O}{lgc12}{902,1191}{88}\Nd{V}{lgc13}{936,1191}{88}
\Lb{lgt,font=\bfseries\fontsize{13.5}{14}\selectfont}{414,1219}{Liaoning}\Lb{lgt,font=\bfseries\fontsize{13.5}{14}\selectfont}{414,1237}{Jilin}\Lb{lgt,font=\bfseries\fontsize{13.5}{14}\selectfont}{414,1255}{Heilongjiang}
\Lb{cit}{525,1219}{SY}\Lb{cit}{560,1219}{DL}\Lb{cit}{594,1219}{JZ}\Lb{cit}{628,1219}{HLD}\Lb{cit}{662,1219}{PJ}\Lb{cit}{697,1219}{FX}\Lb{cit}{731,1219}{DD}\Lb{cit}{765,1219}{TL}\Lb{cit}{799,1219}{CY}\Lb{cit}{833,1219}{AS}\Lb{cit}{867,1219}{BX}\Lb{cit}{902,1219}{LY}\Lb{cit}{936,1219}{YK}
\Lb{cit}{525,1237}{CC}\Lb{cit}{560,1237}{SP}\Lb{cit}{594,1237}{LY2}\Lb{cit}{628,1237}{TH}\Lb{cit}{662,1237}{JL}\Lb{cit}{697,1237}{YKA}\Lb{cit}{731,1237}{SY2}\Lb{cit}{765,1237}{BC}
\Lb{cit}{525,1255}{Ha}\Lb{cit}{560,1255}{SH}\Lb{cit}{594,1255}{SYS}\Lb{cit}{628,1255}{JX}\Lb{cit}{662,1255}{Qi}\Lb{cit}{697,1255}{DQ}\Lb{cit}{731,1255}{QTH}\Lb{cit}{765,1255}{MDJ}\Lb{cit}{799,1255}{JMS}\Lb{cit}{833,1255}{HH}\Lb{cit}{867,1255}{HG}\Lb{cit}{902,1255}{DHL}\Lb{cit}{936,1255}{YC}
\coordinate (lgA1) at (415,1086);\coordinate (lgB1) at (446,1086);
\coordinate (lgA2) at (415,1104);\coordinate (lgB2) at (446,1104);
\coordinate (lgA3) at (415,1123);\coordinate (lgB3) at (446,1123);
\coordinate (lgA4) at (415,1141);\coordinate (lgB4) at (446,1141);
\coordinate (lgA5) at (415,1160);\coordinate (lgB5) at (446,1160);
% ================= EDGES =================
\begin{scope}[on background layer]
\fill[bandc] (13,761) rectangle (953,771);
\fill[bandc] (439,771) rectangle (449,1069);
\fill[legbg] (404,1069) rectangle (953,1268);
\draw[legbd,line width=1pt] (404,1268) -- (404,1069) -- (953,1069);
\draw[fam,eR] (lgA1)--(lgB1);
\draw[eR,line width=1pt,dash pattern=on 2.5pt off 1.5pt] (lgA2)--(lgB2);
\draw[eR,line width=1.2pt,dash pattern=on 5pt off 3pt] (lgA3)--(lgB3);
\draw[pub,eR] (lgA4)--(lgB4);
\draw[oth,eR!60] (lgA5)--(lgB5);
% long routes
\draw[rt] (pp9)--(818,238)--(246,238)--(246,465)--(23,465)--(L4);
\draw[rt] (pp10)--(952,238)--(952,807)--(913,807);
\draw[rt] (cz1)--(cz2);
\draw[rt] (g4)--(s48);
\draw[rt] (445,643)--(771,643)--(771,1064)--(394,1064)--(394,1143)--(344,1143);
\draw[rt] (771,812)--(jl22) (785,812)--(785,831)--(jl23);
\draw[rt] (ch4r)--(480,643) (ch6r)--(521,643) (ch5r)--(542,643) (ch10r)--(563,643) (ch12)--(480,643) (ch15r)--(500,643) (ch9)--(522,643) (ch8r)--(544,643);
\draw[rt] (316,607)--(316,841)--(jr26);
\draw[rt] (ch11)|-(lg35) (ch15r)--(500,690) (505,690)--(505,727)--(lg36);
% top-left
\draw[fam,eY] (a13)--(a10|-a13) (a12)--(a8) (a11)--(a9) (a10)--(a7);
\draw[pub,eY] (a10|-a13)--(a14);
\draw[oth,eGy,line width=0.7pt] (71,49) rectangle (239,83);
\draw[oth,eGy,line width=0.7pt] (52,74) rectangle (239,100);
\draw[oth,eGy,line width=0.7pt] (73,97) rectangle (239,132);
\draw[pub,eGy,line width=1.5pt] (q25)--(q18) (a7)--(q23) (q30)--(q12) (q32)--(q15) (q22)--(q17) (q27)--(q24) (q26)--(q28) (q33)--(q36) (q35)--(q16) (q36)--(lq16);
\draw[fam,eGy] (q22)--(q27) (q26)--(q33) (q35)-|(q18) (q25)|-(q23);
\coordinate (qb) at (42,138);
\draw[fam,eGy] (q12)|-(qb) (q14)--(q10) (q13)--(q11);
\coordinate (gb1) at (165,168);
\draw[fam,eGy] (g31)--(gb1) (g19)--(g5) (g8)--(g6) (g9)--(g7) (g4)--(g4|-g31) (g42)--(g41) (g34)--(g34-|g42) (g39)--(g40);
\draw[pub,eGy,line width=1.6pt] (gb1)--(g34) (g38)--(g37);
\draw[pub,eR] (g34r)--(g4);
\draw[pub,eL] (lq16)--(lq17);
\draw[fam,eR] (s68)--(s72) (s63)--(s63-|s72);
\draw[oth,eR] (s63-|s72)--(s48);
\coordinate (sb) at (139,303);
\draw[fam,eB] (s39)--(sb) (s72)--(s62) (s22)--(s51) (s45)--(s20) (s82)--(s47) (sb)--(s21);
\draw[pub,eB] (s23)--(sb);
\draw[pub,eK] (p3)--(p4);
% blue top
\draw[fam,eB] (u1)--(u7) (u2)--(u6) (u3)--(u5) (u4)--(u8) (u1|-u15)--(u4|-u15);
\draw[pub,eB] (u4|-u15)--(u15);
\draw[fam,eB] (v46)--(v41) (v32)--(v44) (v33)--(v43);
\draw[pub,eB] (w25)--(w9) (w12)--(w17);
\draw[fam,eB] (w9)--(w18);
\draw[rst,eB] (x20)--(x24);
\draw[oth,eGy] (x52)--(x14);
\draw[fam,eD] (x11)--(x20d);
\draw[fam,eB] (y47)--(y11) (y13)--(y16) (y21)--(y27) (y22)--(y28) (y30)--(y51) (y49)--(y50) (y50)--(y31) (y14)--(y45) (y10)--(y10-|y14);
\draw[pub,eB] (y11)--(y26) (y30)--(y49);
% dark red
\draw[pub,eD] (z21)--(z19) (h15)--(h15-|h1);
\draw[fam,eD] (z19)--(z14) (z7)--(z24) (z8)--(z23) (z9)--(z17) (z13)--(z16) (z25)--(z22) (z21)--(z21|-z22);
\draw[fam,eD] (h15-|h1)--(h12) (h1)--(h6) (h2)--(h5) (h3)--(h4);
% gold top
\draw[fam,eA] (o9|-o5)--(o5) (o9)--(o39) (o15)--(o18) (o19)--(o41) (o25)--(o20) (o32)--(o45) (o44)--(o49);
\draw[rst,eA] (o5)--(o19) (o20)--(o44);
\draw[fam,eA] (o23)--(o31) (o24)--(o35) (o23|-o5)--(o24|-o5) (903,75)--(946,75) (924,39)--(924,75);
\draw[rt] (k14)--(k14|-k30)--(k30) (k30)--(k122) (k14)-|(k122);
\draw[fam,eA] (k30)--(k13) (k11)--(k12) (k17)--(k40) (k26)--(k27);
\draw[fam,eGy] (k122)--(k17);
\draw[fam,eA] (m47)--(866,138)--(886,138)--(m42);
\draw[fam,eGy] (866,138)--(m159) (886,138)--(m104) (n4)--(n8) (n7)--(n7-|n4);
\draw[pub,eA] (n43)--(n46);
\draw[fam,eP] (pp11)--(pp10) (pp9)--(pp12);
% green
\draw[fam,eGy] (e24)--(e23) (e51)--(e21) (e45)--(e49) (e24|-e47)--(e47);
\draw[fam,eG] (e26)--(e29) (e28)--(e34) (e31)--(e33) (e30)--(e30|-e29);
\draw[oth,eGy] (e39)--(e37);
\draw[pub,eG,line width=1.1pt] (386,331)--(700,331) (386,341)--(700,341) (386,352)--(700,352);
\draw[pub,eG,line width=1.1pt] (e21)--(388,352) (e49)--(409,352) (e26)--(456,352) (e34)--(475,352) (e33)--(496,352) (e30)--(517,352) (e29)--(535,352) (e18)--(558,352) (e43)--(584,352) (e40)--(611,352) (e44)--(637,352) (e50)--(664,352) (e37)--(690,352);
\draw[pub,eG,line width=1.1pt] (e10)--(407,331) (e11)--(427,331) (e12)--(532,331) (e15)--(554,331) (e16)--(572,331) (e8)--(511,341) (e5)--(617,331) (e32)--(678,331) (e6)--(659,331) (e17)--(696,331);
\draw[eG!60,line width=0.6pt] (e27)--(485,341);
\draw[fam,eG] (e4)--(449,399) (e9)--(e36) (e10)--(e35) (e11)--(e25) (e19)--(e20) (e19)--(467,381)--(467,418)--(e20) (467,399)--(e27);
\draw[fam,eG] (e8)--(e16) (e12)--(e22) (e15)--(e7) (e13)--(617,399) (e5)--(e14) (e6)--(e17) (e32)--(e32|-e6);
\draw[fam,eGy] (617,399)--(e52) (e38)--(e48);
\draw[rt,draw=eG] (e23)--(e4);
\draw[rt,draw=eG] (e22)--(532,534)--(401,534)--(ch2g) (501,534)--(ch3g);
\draw[fam,eY] (yy2)--(yy5) (yy3)--(yy4) (yy2|-yy6)--(yy3|-yy6);
\draw[fam,eGy] (yy6)--(yy2|-yy6);
% Toulong
\draw[fam,eB] (bb35)--(bb38) (bb36)--(bb37) (bb35|-bb23)--(bb23);
\draw[pub,eR] (bb23)--(tl73) (s20)--(tl105) (tl120)--(tl120|-tl73) (tl84)--(tl84|-tl73) (tl33)--(tl33|-tl73) (tl24)--(tl42) (160,425)--(181,425) (tl191)--(tl200);
\draw[fam,eGy] (tl186)--(tl33);
\draw[fam,eR] (tl24)--(tl73) (tl127)--(160,425) (tl105)--(tl102) (tl103)--(tl153) (tl161)--(tl154) (tl170)--(tl141) (76,425)--(tl192);
\draw[rst,eR] (tl73)--(tl110);
\draw[fam,eR] (ll53)--(ll54) (ll150)--(ll119) (ll156)--(172,505) (ll177)--(ll196) (ll106)--(ll174) (ll113)--(ll168) (ll181)--(ll169) (ll185)--(ll155) (ll172)--(ll197) (ll178)--(153,627);
\draw[pub,eR] (ll115)--(94,520) (172,505)--(ll158) (ll40)--(ll55) (ll196)--(ll195);
\draw[fam,eGy] (ll151)--(ll40);
% CZ6278, D7812, centre
\draw[fam,eO] (c1)--(c2);
\draw[rt] (c1)--(288,355)--(312,355)--(c2) (298,355)--(c39);
\draw[fam,eR] (dd69)--(dd183) (dd70|-dd112)--(dd112) (dd164)--(dd129);
\draw[rt] (dd70)--(287,458)--(287,420)--(dd78) (dd78)--(dd164);
\draw[fam,eR] (r128)--(r145) (r130)--(r130-|r128);
\draw[fam,eGy] (gg109)--(gg143|-gg109) (gg111)--(gg165) (gg116)--(gg152) (gg121)--(gg146) (gg143)--(gg144);
\draw[fam,eR] (fa50)--(fa28|-fa50) (fa25)--(fa46) (fa26)--(fa44) (fa27)--(fa30) (fa28)--(fa29) (ap58)--(ap90);
\draw[fam,eGy] (ap58|-ap166)--(ap166);
\draw[pub,eR] (ap166)--(ap198) (ap184)--(ap189) (ap187)--(ap188) (ap193)--(ap199);
% chain
\draw[rt,draw=eP] (ch15)--(ch15-|ch5)--(ch5) (ch15)--(ch1);
\draw[fam,eP] (ch5)--(ch2p) (296,570)--(339,570)--(ch4p) (ch3p)--(318,570) (ch7p)--(ch8p);
\draw[fam,eC] (ch7c)--(ch1c) (ch4c)--(ch4c-|ch7c);
\draw[fam,eR] (ch18)--(ch19) (ch131)--(ch131|-ch19) (ch11)|-(ch12);
\draw[rt] (339,574)--(381,574) (ch2k)--(360,574) (ch1g)--(381,574);
\draw[rt] (316,607)--(444,607) (ch3p)--(318,607) (ch4p)--(339,607) (ch2k)--(360,607) (ch1g)--(381,607) (ch2g)--(401,607) (ch1c)--(422,607) (ch18)--(444,607) (ch6p)--(339,607) (ch7p)--(359,607) (ch10)--(380,607) (ch16)--(401,607) (ch43)--(422,607) (ch13)--(444,607);
\draw[rt,draw=eK] (ch6p)--(ch1k);
\draw[fam,eGy] (ch16)--(ch17) (lg35)--(lg36);
\draw[pub,eR] (ch13)--(ch14) (443,645)--(ch11) (443,682)--(505,682);
\draw[fam,eL] (527,708)--(lg15) (lg5)--(lg4) (lg6)--(lg3);
\draw[fam,eL] (lt14)--(lt12) (lt13)--(226,625) (205,625)--(lt8) (lt7)|-(lt11);
\draw[rst,eL] (lt9)--(lt7) (lt8)--(243,645);
\draw[rt,draw=eL] (lt8)--(ch2lg);
% T261, K974, Z203
\draw[fam,eA] (t33)--(t34) (t6)--(t6|-t34);
\draw[rt,draw=eA] (t34)--(658,931)--(jb5);
\draw[fam,eGy] (kk57)--(kk56) (kk79)--(kk80);
\draw[rt] (kk1)--(kk56) (kk3)--(714,722)--(kk2) (714,703)--(714,751)--(698,751)--(cc3) (cc3)--(je10);
\draw[pub,eR] (zz175)--(zz32) (zz75)--(zz75|-zz32);
\draw[rt] (zz32)--(zz64) (zz32)--(zz18);
\draw[fam,eL] (zz64)--(jlg1);
% right column
\draw[oth,eGy] (rc133)--(rc182);
\draw[pub,eR] (rc41)--(rc176) (rc66)--(rc95) (rc108)--(rc149);
\draw[fam,eGy] (rc38)--(rc60) (rc101)--(rc147);
\draw[fam,eR] (rc59)--(rc93) (rc134)--(rc162) (rc157)--(rc160) (rc49)--(rc88) (rc86)--(rc87) (913,728)--(934,728);
% cyan
\draw[pub,eC] (cy14)--(cy13) (cy2)--(cy8);
\draw[fam,eC] (cy13)--(cy16) (cy6)--(cy5);
\draw[pub,eGy,line width=1.4pt] (cy11)--(cy12) (cy14)--(cy14|-cy11);
\draw[rst,eC,line width=2pt] (cy8)--(cy9) (cy10)--(cy10|-cy9) (cy2)--(cy3);
\draw[oth,eC] (cy5)--(cy3) (cy5)--(cy5|-cy2)--(cy2);
\draw[eC,line width=1.8pt] (cy5)--(810,450)--(879,450)--(cy45);
% K39
\draw[fam,eA] (kg14)--(kg29) (kg22)--(kg28) (kg14|-kg21)--(kg21);
\draw[rt,draw=eA] (kg21)--(kg2) (kg3)--(kg3|-kg21) (kg1)--(kg1|-kg21);
\draw[rt] (kg1)--(kr135);
\draw[fam,eR] (kr118)--(kr97) (kr135)--(kr117) (kr136)--(kr100) (kr137)--(kr99) (kr138)--(kr98);
\draw[pub,eR] (kr97)--(kr10);
\draw[fam,eR] (rr74)--(rr92) (rr91)--(rr91-|rr74) (rr83)--(rr125) (rr123)--(rr123-|rr83) (rr89)--(rr179) (rr96)--(rr96-|rr89);
\draw[fam,eGy] (rr81)--(rr142) (rr124)--(rr124-|rr81);
% Liaoning
\draw[fam,eR] (L8)--(43,777)--(107,777)--(L19) (L17)--(65,777) (L18)--(86,777);
\draw[rt] (43,813)--(L12) (L8)--(43,813) (L17)--(65,813) (L18)--(86,813) (L19)--(107,813);
\draw[fam,eR] (L4)--(L5) (L6)--(42,856) (L14)--(L27) (L24)--(99,875) (M21)--(M25) (M15)--(M16);
\draw[rst,eR] (L4)--(L9);
\draw[rt] (bz29)--(262,781)--(215,781)--(M20);
\draw[rt,draw=eK] (pk1)--(pk2);
\draw[rt,draw=eC] (pk4)--(316,810);
\draw[fam,eGy] (gl2)--(gl7) (gl6)--(320,885) (gl11)--(gl10) (gl9)--(320,924) (gl1)--(gl4);
\draw[fam,eY] (yl4)--(yl2) (yl3)--(321,961);
\draw[fam,eR] (sf2)--(sf3);
\draw[rt] (sf2)--(sf11) (sf22)--(95,953);
\draw[oth,eR] (sf11)--(sf6);
\draw[fam,eD] (sf6)--(sf7);
\draw[rt,draw=eL] (lk7)--(lk4);
\draw[rt] (400,856)--(400,909)--(608,909)--(jr26);
\draw[rt] (dr13)--(420,932)--(420,967)--(dr7);
\draw[fam,eGy] (ge5)--(ge3) (ge8)--(344,1022);
\draw[rt] (ge3)--(677,1022)--(je11);
\draw[fam,eG] (jg11)--(252,1007) (jg9)--(jg5) (jg8)--(jg4);
\draw[rt] (jg4)--(jo1) (252,1046)--(jb1);
\draw[rst,eB] (jb1)--(jb4);
\draw[fam,eB] (lb3)--(lb8) (lb5)--(23,1053) (lb6)--(lb10) (lb9)--(68,1053) (lb17)--(lb19) (lb18)--(113,1053) (lb2)--(lb12);
\draw[fam,eP] (pc1)--(pc4) (pc6)--(pc3);
\draw[fam,eD] (dc1)--(dc5) (dc2)--(dc4) (d3)--(d8);
\draw[fam,eG] (gc12)--(258,1119) (gc1)--(gc10) (gc2)--(gc6);
\draw[fam,eA] (gx7)--(gx11) (gx12)--(gx9);
\draw[fam,eO] (or3)--(or2);
\draw[rst,eGy,line width=1.2pt] (23,1241)--(oy1);
\draw[fam,eC] (c9)--(c11) (c10)--(144,1240);
\draw[rst,eB] (cz61)--(cz620);
\draw[pub,eL] (lf3)--(lf1);
\draw[fam,eL] (lf1)--(lf5);
\draw[oth,eL] (lf6)--(lf1);
\draw[rt,draw=eL] (lf1)--(344,1143);
\draw[fam,eA] (au2)--(325,1144) (au1)--(au3) (au8)--(au6) (au3)--(343,1188) (au5)--(au10);
\draw[rt,draw=eA] (325,1144)--(au8);
\draw[pub,eP] (au3)--(pu5);
% Jilin
\draw[fam,eB] (jb6)--(jb9) (jb18)--(jb16) (jb21)--(jb17) (559,805)--(580,805) (jb14)--(jb15);
\draw[rt] (jb9)--(537,841) (jb16)--(559,841) (jb17)--(580,841) (538,841)--(ju1);
\draw[pub,eB] (jb14)--(609,823)--(jr27);
\draw[fam,eR] (jr26)--(jr30) (jr27)--(jb7);
\draw[rt] (jb10)--(608,864);
\draw[oth,eG] (ju6)--(ju1);
\draw[fam,eG] (ju1)--(ju4) (ju5)--(ju2);
\draw[fam,eB] (jx12)--(jx8) (jx19)--(jx20) (jx2)--(jx3);
\draw[fam,eR] (jl23)--(jl24) (jl22)--(814,831) (ja39)--(ja40);
\draw[fam,eC] (jc1c)--(jc2c);
\draw[fam,eGy] (jd2)--(jd4);
\draw[fam,eR] (jr31)--(jr2) (jr3)--(jr8) (jr4)--(jr7) (jr5)--(jr6) (jr44)--(599,1008)--(jr43);
\draw[rt] (jb5)--(571,932)--(jr2) (jr2)--(jr2|-jr43)--(jr43);
\draw[oth,eR] (jr43)--(je12);
\draw[rt] (je12)--(je36) (je13)--(je12) (je35)--(je32) (je10)--(je9);
\draw[pub,eR] (je9)--(je14);
\draw[fam,eR] (je36)--(je38) (je37)--(je42);
\draw[fam,eD] (cc3)--(cc4);
\draw[fam,eA] (hh6)--(hh4) (hy1)--(hy2);
\draw[pub,eA] (hh4)--(hh5);
\draw[fam,eR] (kq28)--(kq29) (hr15)--(944,1033) (hr16)--(hr33) (hr17)--(hr18);
\draw[rt] (kq29)--(kq3);
\end{scope}
\end{tikzpicture}
\end{document}
